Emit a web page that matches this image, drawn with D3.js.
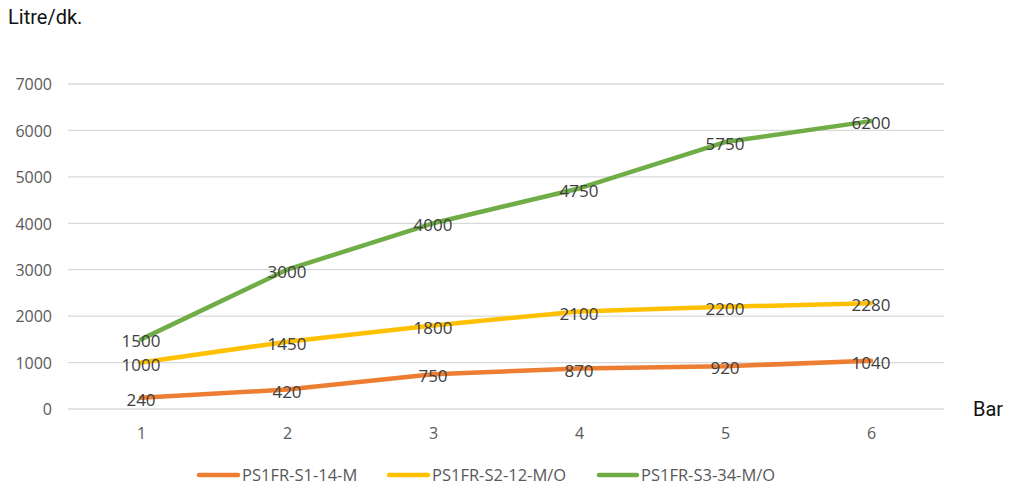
<!DOCTYPE html>
<html><head><meta charset="utf-8">
<script src="https://cdn.jsdelivr.net/npm/d3@7"></script>
<style>body{margin:0;background:#fff}</style>
</head><body><svg id="c" width="1010" height="488"></svg>
<script>
const categories = ["1","2","3","4","5","6"];
const seriesNames = ["PS1FR-S1-14-M","PS1FR-S2-12-M/O","PS1FR-S3-34-M/O"];
const s1 = [240,420,750,870,920,1040];
const s2 = [1000,1450,1800,2100,2200,2280];
const s3 = [1500,3000,4000,4750,5750,6200];
const yTicks = [0,1000,2000,3000,4000,5000,6000,7000];
const colors = ["#ED7D31","#FFC000","#70AD47"];
const series = [s1,s2,s3];

const svg = d3.select("#c");
const x = d3.scalePoint().domain(categories).range([68,944]).padding(0.5);
const y = d3.scaleLinear().domain([0,7000]).range([409,84]);
const font = "'Open Sans', sans-serif";

svg.append("g").selectAll("line").data(yTicks).join("line")
  .attr("x1",68).attr("x2",944).attr("y1",d=>y(d)).attr("y2",d=>y(d))
  .attr("stroke","#d9d9d9").attr("stroke-width",1.3);

const yAxis = d3.axisLeft(y).tickValues(yTicks).tickSize(0).tickPadding(0).tickFormat(d3.format("d"));
const ya = svg.append("g").attr("transform","translate(52,0)").call(yAxis);
ya.select(".domain").remove();
ya.selectAll("text").attr("font-family",font).attr("font-size",16).attr("fill","#595959").attr("dy","0.36em");

const xAxis = d3.axisBottom(x).tickSize(0).tickPadding(0);
const xa = svg.append("g").attr("transform","translate(0,428)").call(xAxis);
xa.select(".domain").remove();
xa.selectAll("text").attr("font-family",font).attr("font-size",16).attr("fill","#595959").attr("dy","0.71em");

const line = d3.line().x((d,i)=>x(categories[i])).y(d=>y(d));
series.forEach((s,k)=>{
  svg.append("path").datum(s).attr("d",line).attr("fill","none")
    .attr("stroke",colors[k]).attr("stroke-width",4.5).attr("stroke-linejoin","round").attr("stroke-linecap","round");
});
series.forEach((s,k)=>{
  svg.append("g").selectAll("text").data(s).join("text")
    .attr("x",(d,i)=>x(categories[i]))
    .attr("y",d=>y(d)+2)
    .attr("text-anchor","middle").attr("dy","0.36em")
    .attr("font-family",font).attr("font-size",17).attr("fill","#404040")
    .text(d=>d);
});

svg.append("text").attr("x",8).attr("y",24).attr("font-family","Roboto, sans-serif").attr("font-size",20).attr("fill","#111").text("Litre/dk.");
svg.append("text").attr("x",973).attr("y",416).attr("font-family","Roboto, sans-serif").attr("font-size",20).attr("fill","#111").text("Bar");

const legX = [197,387,597];
const legW = [43,43,42];
seriesNames.forEach((n,k)=>{
  svg.append("line").attr("x1",legX[k]+2).attr("x2",legX[k]+legW[k]-2).attr("y1",475).attr("y2",475)
    .attr("stroke",colors[k]).attr("stroke-width",4.5).attr("stroke-linecap","round");
  svg.append("text").attr("x",legX[k]+legW[k]+2).attr("y",475).attr("dy","0.36em")
    .attr("font-family",font).attr("font-size",16.5).attr("fill","#595959").text(n);
});
</script></body></html>
